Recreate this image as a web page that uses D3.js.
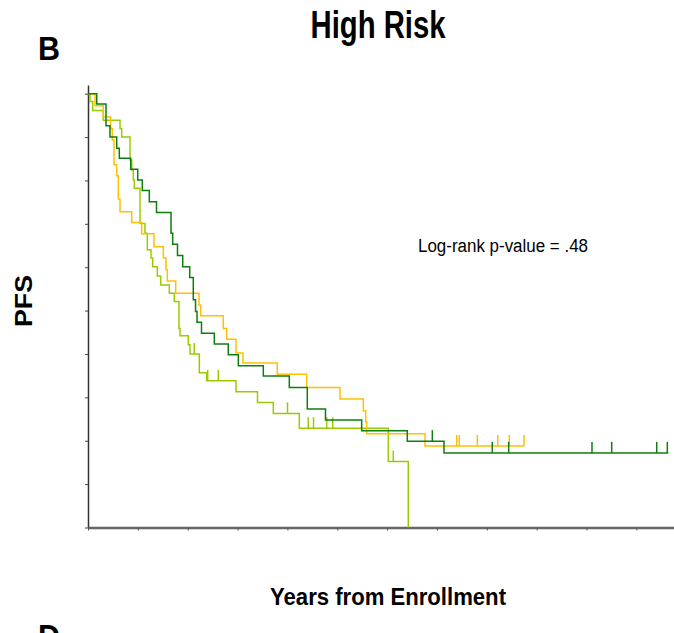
<!DOCTYPE html>
<html>
<head>
<meta charset="utf-8">
<script src="https://cdn.jsdelivr.net/npm/d3@7"></script>
<style>
  body { margin: 0; background: #fff; }
  svg { display: block; }
  .lbl { font-family: "Liberation Sans Narrow", "Liberation Sans", Arial, sans-serif; fill: #000; }
</style>
</head>
<body>
<div id="chart"></div>
<script>
// KM curves, high risk group. times in years, survival as fraction
var greenTimes = [0.175, 0.361, 0.441, 0.576, 0.628, 0.857, 0.997, 1.089, 1.230, 1.374, 1.665, 1.699, 1.795, 1.900, 2.040, 2.112, 2.157, 2.187, 2.277, 2.534, 2.814, 3.015, 3.517, 4.038, 4.399, 4.764, 5.490, 6.405, 7.141];
var greenSurv  = [0.976, 0.926, 0.900, 0.874, 0.851, 0.826, 0.801, 0.777, 0.751, 0.726, 0.678, 0.653, 0.627, 0.601, 0.576, 0.525, 0.498, 0.473, 0.448, 0.423, 0.398, 0.373, 0.349, 0.323, 0.273, 0.248, 0.223, 0.199, 0.172];
var greenCensor = [6.907, 8.110, 8.439, 10.110, 10.505, 11.408, 11.621];
var greenEnd = 11.641;

var orangeTimes = [0.140, 0.307, 0.455, 0.487, 0.522, 0.576, 0.608, 0.642, 0.877, 1.077, 1.324, 1.511, 1.565, 1.591, 1.759, 2.227, 2.261, 2.714, 2.782, 2.969, 3.109, 3.797, 4.387, 5.055, 5.523, 5.571, 5.591, 6.760];
var orangeSurv  = [0.972, 0.946, 0.920, 0.893, 0.836, 0.811, 0.757, 0.728, 0.703, 0.677, 0.647, 0.621, 0.594, 0.568, 0.540, 0.513, 0.488, 0.459, 0.434, 0.402, 0.379, 0.353, 0.323, 0.296, 0.269, 0.244, 0.216, 0.188];
var orangeCensor = [7.396, 7.448, 7.810, 8.219, 8.451, 8.746];
var orangeEnd = 8.746;

var limeTimes = [0.040, 0.094, 0.307, 0.642, 0.676, 0.843, 0.877, 0.909, 0.929, 1.043, 1.143, 1.190, 1.264, 1.298, 1.390, 1.458, 1.631, 1.731, 1.825, 1.846, 2.012, 2.046, 2.233, 2.381, 2.969, 3.400, 3.717, 4.239, 6.024, 6.425];
var limeSurv  = [0.982, 0.961, 0.939, 0.920, 0.900, 0.847, 0.824, 0.801, 0.782, 0.701, 0.678, 0.640, 0.621, 0.601, 0.580, 0.559, 0.540, 0.521, 0.459, 0.442, 0.421, 0.400, 0.357, 0.338, 0.313, 0.288, 0.263, 0.229, 0.152, 0];
var limeCensor = [2.132, 2.401, 2.614, 4.002, 4.419, 4.524, 4.788, 4.909, 6.124];
var limeEnd = 6.425;

var xTicks = d3.range(0, 12, 1);
var yTicks = d3.range(0, 11).map(function(d) { return d / 10; });

var W = 674, H = 633;
var x = d3.scaleLinear().domain([0, 11.755]).range([88, 674]);
var y = d3.scaleLinear().domain([0, 1.02]).range([527.5, 85]);

var svg = d3.select("#chart").append("svg")
    .attr("width", W)
    .attr("height", H);

// axes
var yAxis = d3.axisLeft(y).tickValues(yTicks).tickSize(3).tickSizeOuter(0).tickFormat("");
var xAxis = d3.axisBottom(x).tickValues(xTicks).tickSize(3).tickSizeOuter(0).tickFormat("");

svg.append("g")
    .attr("transform", "translate(88,0)")
    .call(yAxis)
    .call(function(g) {
      g.select(".domain").attr("stroke", "#333").attr("stroke-width", 1.5);
      g.selectAll(".tick line").attr("stroke", "#444");
    });

svg.append("g")
    .attr("transform", "translate(0,527.5)")
    .call(xAxis)
    .call(function(g) {
      g.select(".domain").attr("stroke", "#666").attr("stroke-width", 2.5);
      g.selectAll(".tick line").attr("stroke", "#555");
    });

var line = d3.line()
    .curve(d3.curveStepAfter)
    .x(function(d) { return x(d[0]); })
    .y(function(d) { return y(d[1]); });

function plotCurve(times, surv, censor, endT, color) {
  var pts = [[0, 1]];
  times.forEach(function(t, i) { pts.push([t, surv[i]]); });
  if (endT > times[times.length - 1]) pts.push([endT, surv[surv.length - 1]]);

  svg.append("path")
    .datum(pts)
    .attr("fill", "none")
    .attr("stroke", color)
    .attr("stroke-width", 1.5)
    .attr("d", line);

  var bis = d3.bisector(function(d) { return d; }).right;
  svg.append("g").selectAll("line")
    .data(censor)
    .join("line")
      .attr("x1", function(d) { return x(d); })
      .attr("x2", function(d) { return x(d); })
      .attr("y1", function(d) { var i = bis(times, d); return y(i === 0 ? 1 : surv[i - 1]); })
      .attr("y2", function(d) { var i = bis(times, d); return y(i === 0 ? 1 : surv[i - 1]) - 11; })
      .attr("stroke", color)
      .attr("stroke-width", 1.5);
}

plotCurve(limeTimes, limeSurv, limeCensor, limeEnd, "#99cc00");
plotCurve(orangeTimes, orangeSurv, orangeCensor, orangeEnd, "#ffc000");
plotCurve(greenTimes, greenSurv, greenCensor, greenEnd, "#0f7d0f");

// labels
svg.append("text").attr("class", "lbl")
    .attr("x", 378).attr("y", 38)
    .attr("text-anchor", "middle")
    .attr("font-size", 38).attr("font-weight", "bold")
    .attr("textLength", 135).attr("lengthAdjust", "spacingAndGlyphs")
    .text("High Risk");

svg.append("text").attr("class", "lbl")
    .attr("x", 38).attr("y", 60)
    .attr("font-size", 34).attr("font-weight", "bold")
    .attr("textLength", 22).attr("lengthAdjust", "spacingAndGlyphs")
    .text("B");

svg.append("text").attr("class", "lbl")
    .attr("x", 38).attr("y", 648)
    .attr("font-size", 34).attr("font-weight", "bold")
    .attr("textLength", 22).attr("lengthAdjust", "spacingAndGlyphs")
    .text("D");

svg.append("text").attr("class", "lbl")
    .attr("transform", "translate(32,301) rotate(-90)")
    .attr("text-anchor", "middle")
    .attr("font-size", 23).attr("font-weight", "bold")
    .attr("textLength", 52).attr("lengthAdjust", "spacingAndGlyphs")
    .text("PFS");

svg.append("text").attr("class", "lbl")
    .attr("x", 388).attr("y", 605)
    .attr("text-anchor", "middle")
    .attr("font-size", 24).attr("font-weight", "bold")
    .attr("textLength", 236).attr("lengthAdjust", "spacingAndGlyphs")
    .text("Years from Enrollment");

svg.append("text").attr("class", "lbl")
    .attr("x", 418).attr("y", 252)
    .attr("font-size", 18)
    .attr("textLength", 170).attr("lengthAdjust", "spacingAndGlyphs")
    .text("Log-rank p-value = .48");
</script>
</body>
</html>
